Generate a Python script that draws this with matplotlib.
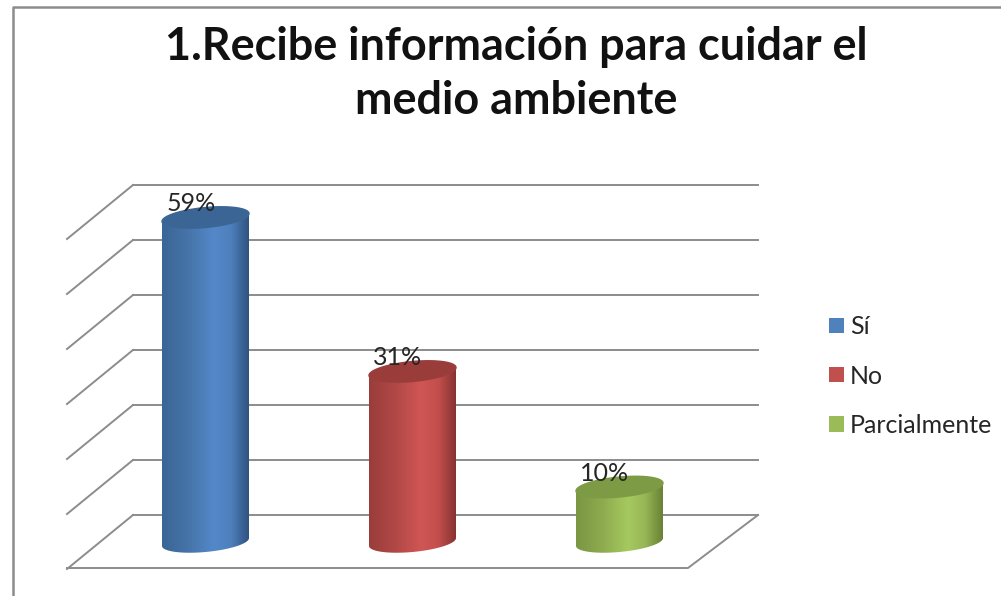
import matplotlib
matplotlib.use("Agg")
import matplotlib.pyplot as plt
import numpy as np
from matplotlib.colors import LinearSegmentedColormap
from matplotlib.patches import Patch, Polygon

categories = ["Sí", "No", "Parcialmente"]
values = [59, 31, 10]
labels = ["59%", "31%", "10%"]
wall_ticks = [0, 10, 20, 30, 40, 50, 60]
title = "1.Recibe información para cuidar el\nmedio ambiente"

legend_colors = ["#4f81bd", "#c0504d", "#9bbb59"]
body_colors = [
  [(0, "#3a6596"), (0.3, "#4674a8"), (0.6, "#5388c9"), (0.8, "#4d7fbb"), (1, "#2f5280")],
  [(0, "#993d3b"), (0.3, "#b04846"), (0.6, "#d05654"), (0.8, "#c24f4d"), (1, "#863331")],
  [(0, "#7a9643"), (0.3, "#8dab4e"), (0.6, "#a6c95f"), (0.8, "#96b655"), (1, "#688235")],
]
top_colors = ["#3a6595", "#9a3c3a", "#7d9a45"]

W, H = 1001, 596
PX_PER_UNIT = 5.5
BASE_Y = 542
FIRST_X = 205.5
STEP_X = 207
RX, RY = 43.5, 10
TILT = 0.09
GRAY = "#8c8c8c"

plt.rcParams["font.family"] = ["Lato", "DejaVu Sans"]
fig = plt.figure(figsize=(W / 100, H / 100), dpi=100)

# background layer in pixels: frame, wall and floor
bg = fig.add_axes([0, 0, 1, 1])
bg.set_xlim(0, W)
bg.set_ylim(H, 0)
bg.axis("off")
bg.plot([12.5, 12.5, W], [H, 7, 7], color=GRAY, lw=1.8)
for t in wall_ticks:
  y = 515 - t * PX_PER_UNIT
  bg.plot([133, 758], [y, y], color=GRAY, lw=1.4)
  bg.plot([133, 67], [y, y + 54], color=GRAY, lw=1.4)
bg.plot([67, 688, 758], [568, 568, 515], color=GRAY, lw=1.4)
bg.text(516, 74, title, ha="center", va="center", fontsize=32.4, fontweight="bold",
        color="#111111", linespacing=1.34)

# data layer: x in category index, y in percent
ax = fig.add_axes([0, 0, 1, 1])
ax.axis("off")
ax.patch.set_alpha(0)


def ellipse(cx, val, t):
  dx = RX * np.cos(t)
  dy = RY * np.sin(t) + TILT * dx
  return cx + dx / STEP_X, val + dy / PX_PER_UNIT


for i, val in enumerate(values):
  cmap = LinearSegmentedColormap.from_list("c", body_colors[i])
  x0, _ = ellipse(i, 0, np.pi)
  x1, _ = ellipse(i, 0, 0.0)
  low = np.linspace(np.pi, 2 * np.pi, 60)
  bx, by = ellipse(i, 0, low)
  tx, ty = ellipse(i, val, low[::-1])
  body = Polygon(np.column_stack([np.r_[bx, tx], np.r_[by, ty]]), closed=True,
                 fc="none", ec="none", transform=ax.transData)
  ax.add_patch(body)
  grad = np.linspace(0, 1, 256).reshape(1, -1)
  im = ax.imshow(grad, cmap=cmap, aspect="auto", extent=[x0, x1, -5, val + 5], zorder=2)
  im.set_clip_path(body)
  ex, ey = ellipse(i, val, np.linspace(0, 2 * np.pi, 120))
  ax.fill(ex, ey, color=top_colors[i], zorder=3)
  ax.annotate(labels[i], (i, val), xytext=(-10.5, 10), textcoords="offset points",
              ha="center", va="center", fontsize=18, color="#262626", zorder=4)

ax.set_xlim(-FIRST_X / STEP_X, (W - FIRST_X) / STEP_X)
ax.set_ylim(-(H - BASE_Y) / PX_PER_UNIT, BASE_Y / PX_PER_UNIT)

handles = [Patch(fc=c, ec="none", label=n) for c, n in zip(legend_colors, categories)]
ax.legend(handles=handles, loc="center left", bbox_to_anchor=(829 / W, 1 - 376 / H),
          frameon=False, fontsize=18, handlelength=0.58, handleheight=0.58,
          handletextpad=0.25, labelspacing=1.05, borderpad=0, borderaxespad=0,
          labelcolor="#262626")

fig.savefig("out.png", dpi=100)
